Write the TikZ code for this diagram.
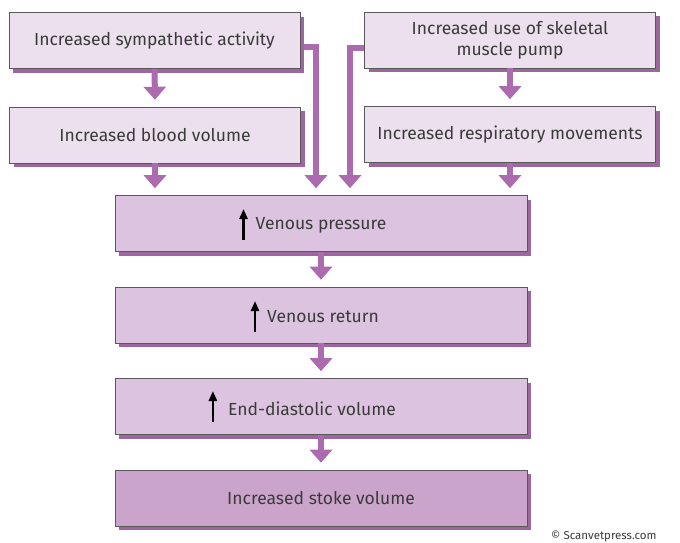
\documentclass[tikz,border=0pt]{standalone}
\usepackage{fontspec}
\setmainfont{Fira Sans}
\usetikzlibrary{arrows.meta,shadows,calc}
\definecolor{topfill}{HTML}{ECDFEE}
\definecolor{midfill}{HTML}{DCC4E0}
\definecolor{lastfill}{HTML}{CAA4CB}
\definecolor{arrowc}{HTML}{AC6BAE}
\definecolor{shadowc}{HTML}{9C679F}
\definecolor{txt}{HTML}{3A3A3A}
\begin{document}
\begin{tikzpicture}[x=1pt,y=-1pt,
  box/.style={draw=black!65,line width=0.6pt,inner sep=0pt,align=center,
    text=txt,font=\fontsize{17.5}{21}\selectfont,
    general shadow={fill=shadowc,shadow xshift=4pt,shadow yshift=-4pt}},
  topbox/.style={box,fill=topfill,minimum width=291pt,minimum height=56pt},
  midbox/.style={box,fill=midfill,minimum width=412pt,minimum height=56pt},
  lastbox/.style={box,fill=lastfill,minimum width=412pt,minimum height=56pt},
  lbl/.style={text=txt,font=\fontsize{17.5}{21}\selectfont,inner sep=0pt},
  fat/.style={draw=arrowc,line width=6pt,-{Triangle[width=22pt,length=13pt]}},
  uparr/.style={draw=black,line width=2.6pt,-{Triangle[width=8pt,length=10pt]}}]
\useasboundingbox (0,0) rectangle (680,542);
\node[topbox] (sym) at (154.5,40.5) {Increased sympathetic activity};
\node[topbox] (skel) at (510,40) {Increased use of skeletal\\muscle pump};
\node[topbox] (blood) at (155,135) {Increased blood volume};
\node[topbox] (resp) at (510,134.5) {Increased respiratory movements};
\node[midbox] (vp) at (321,223.5) {};
\node[midbox] (vr) at (321,315) {};
\node[midbox] (edv) at (321,406.5) {};
\node[lastbox] (sv) at (321,498) {Increased stoke volume};
\node[lbl] (vpt) at (321,225) {Venous pressure};
\node[lbl] (vrt) at (323,317) {Venous return};
\node[lbl] (edvt) at (312,409) {End-diastolic volume};
\draw[uparr] ($(vpt.west)+(-12,15)$) -- ++(0,-31);
\draw[uparr] ($(vrt.west)+(-12,15)$) -- ++(0,-31);
\draw[uparr] ($(edvt.west)+(-15,13)$) -- ++(0,-31);
\draw[fat] (sym.south) -- ($(blood.north)+(0,-7)$);
\draw[fat] (skel.south) -- ($(resp.north)+(0,-7)$);
\draw[fat] (blood.south) -- ($(vp.north -| blood.south)+(0,-7)$);
\draw[fat] (resp.south) -- ($(vp.north -| resp.south)+(0,-7)$);
\draw[fat] ($(sym.east)+(4,6.5)$) -| ($(vp.north)+(-5,-7)$);
\draw[fat] ($(skel.west)+(0,8)$) -| ($(vp.north)+(29,-7)$);
\draw[fat] (vp.south) -- ($(vr.north)+(0,-7)$);
\draw[fat] (vr.south) -- ($(edv.north)+(0,-7)$);
\draw[fat] (edv.south) -- ($(sv.north)+(0,-7)$);
\node[text=txt,font=\fontsize{11.5}{13}\selectfont,anchor=base east] (copy) at (660,539.5) {© Scanvetpress.com};
\end{tikzpicture}
\end{document}
